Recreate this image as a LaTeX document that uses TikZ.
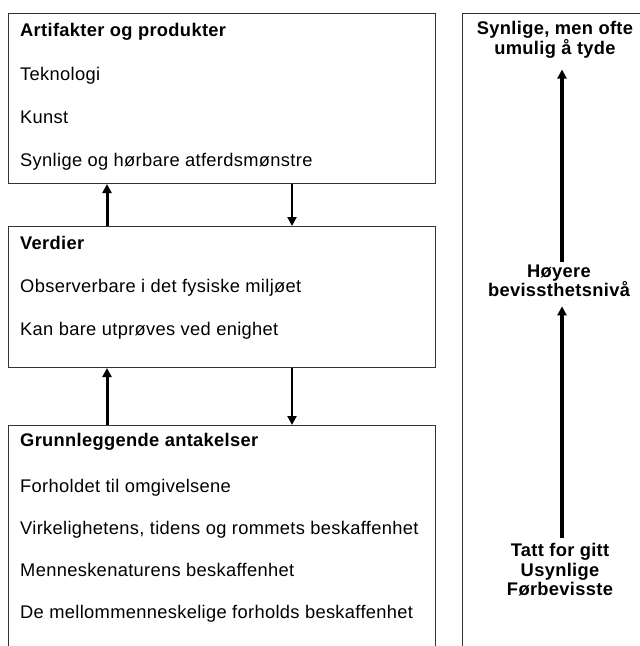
\documentclass[tikz,border=0pt]{standalone}
\usepackage{fontspec}
\setmainfont[LetterSpace=1.8]{Liberation Sans}
\usetikzlibrary{arrows.meta}
\begin{document}
\begin{tikzpicture}[x=1pt,y=-1pt,
  box/.style={draw=black!80,line width=1pt,rectangle,inner sep=0pt,anchor=north west},
  txt/.style={anchor=base west,inner sep=0pt,font=\fontsize{18.3}{20}\selectfont},
  hd/.style={txt,font=\fontsize{18.3}{20}\selectfont\bfseries},
  rtxt/.style={align=center,inner sep=0pt,font=\fontsize{18.3}{19.5}\selectfont\bfseries},
  uparr/.style={line width=3pt,-{Triangle[length=9pt,width=9pt]}},
  dnarr/.style={line width=2pt,-{Triangle[length=9pt,width=9pt]}},
  rarr/.style={line width=3.2pt,-{Triangle[length=9pt,width=9pt]}}]
\useasboundingbox (0,0) rectangle (640,646);
\clip (0,0) rectangle (640,646);
\fill[white] (0,0) rectangle (640,646);
% boxes
\node[box,minimum width=427pt,minimum height=170pt] (b1) at (8,13) {};
\node[box,minimum width=427pt,minimum height=141pt] (b2) at (8,226) {};
\node[box,minimum width=427pt,minimum height=240pt] (b3) at (8,425) {};
\node[box,minimum width=200pt,minimum height=660pt] (rb) at (462,13) {};
% texts box 1
\node[hd]  (t11) at (20,36)  {Artifakter og produkter};
\node[txt] (t12) at (20,80)  {Teknologi};
\node[txt] (t13) at (20,123) {Kunst};
\node[txt] (t14) at (20,166) {Synlige og hørbare atferdsmønstre};
% box 2
\node[hd]  (t21) at (20,249) {Verdier};
\node[txt] (t22) at (20,292) {Observerbare i det fysiske miljøet};
\node[txt] (t23) at (20,335) {Kan bare utprøves ved enighet};
% box 3
\node[hd]  (t31) at (20,446) {Grunnleggende antakelser};
\node[txt] (t32) at (20,492) {Forholdet til omgivelsene};
\node[txt] (t33) at (20,534) {Virkelighetens, tidens og rommets beskaffenhet};
\node[txt] (t34) at (20,576) {Menneskenaturens beskaffenhet};
\node[txt] (t35) at (20,618) {De mellommenneskelige forholds beskaffenhet};
% arrows between boxes
\coordinate (cu) at (107,0);
\coordinate (cd) at (292,0);
\draw[uparr] (cu |- b2.north) -- (cu |- b1.south);
\draw[dnarr] (cd |- b1.south) -- (cd |- b2.north);
\draw[uparr] (cu |- b3.north) -- (cu |- b2.south);
\draw[dnarr] (cd |- b2.south) -- (cd |- b3.north);
% right column
\node[rtxt] (r1) at (555,40) {Synlige, men ofte\\umulig å tyde};
\node[rtxt] (r2) at (559,281) {Høyere\\bevissthetsnivå};
\node[rtxt] (r3) at (560,570) {Tatt for gitt\\Usynlige\\Førbevisste};
\coordinate (ca) at (562,0);
\draw[rarr] ([yshift=3pt]ca |- r2.north) -- ([yshift=-11pt]ca |- r1.south);
\draw[rarr] ([yshift=5pt]ca |- r3.north) -- ([yshift=-9pt]ca |- r2.south);
\end{tikzpicture}
\end{document}
